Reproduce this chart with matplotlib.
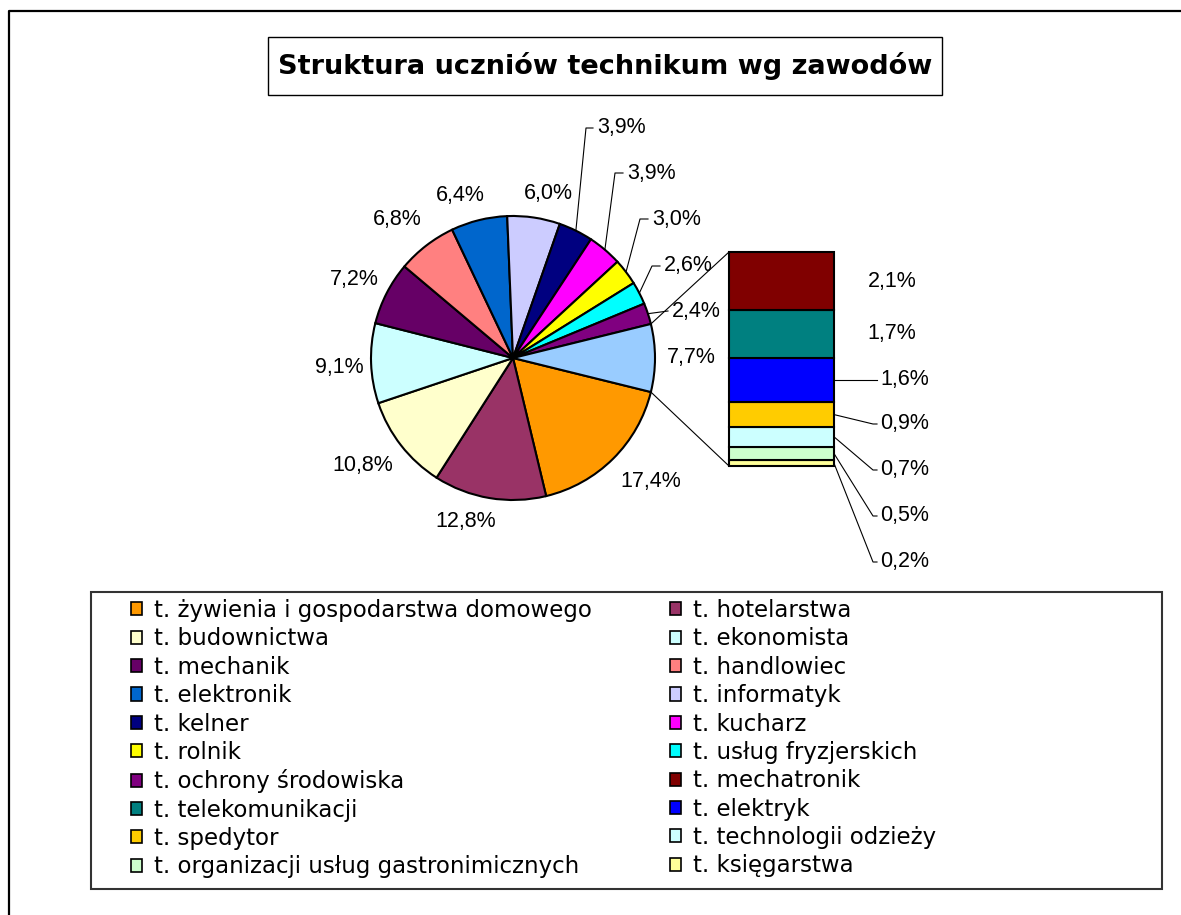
import matplotlib.pyplot as plt
import numpy as np
from matplotlib.patches import Rectangle, Patch, ConnectionPatch
from matplotlib.lines import Line2D
from matplotlib import transforms

# Dane - udzial uczniow technikum wg zawodow (%)
pie_labels = ["t. żywienia i gospodarstwa domowego", "t. hotelarstwa", "t. budownictwa",
              "t. ekonomista", "t. mechanik", "t. handlowiec", "t. elektronik",
              "t. informatyk", "t. kelner", "t. kucharz", "t. rolnik",
              "t. usług fryzjerskich", "t. ochrony środowiska"]
pie_values = [17.4, 12.8, 10.8, 9.1, 7.2, 6.8, 6.4, 6.0, 3.9, 3.9, 3.0, 2.6, 2.4]
pie_colors = ["#FF9900", "#993366", "#FFFFCC", "#CCFFFF", "#660066", "#FF8080", "#0066CC",
              "#CCCCFF", "#000080", "#FF00FF", "#FFFF00", "#00FFFF", "#800080"]

bar_labels = ["t. mechatronik", "t. telekomunikacji", "t. elektryk", "t. spedytor",
              "t. technologii odzieży", "t. organizacji usług gastronimicznych", "t. księgarstwa"]
bar_values = [2.1, 1.7, 1.6, 0.9, 0.7, 0.5, 0.2]
bar_colors = ["#800000", "#008080", "#0000FF", "#FFCC00", "#CCFFFF", "#CCFFCC", "#FFFF99"]
other_color = "#99CCFF"

title = "Struktura uczniów technikum wg zawodów"

W, H = 1181, 915
fig = plt.figure(figsize=(W / 100, H / 100), dpi=100)


def fp(x, y):
    # piksele liczone od gory -> wspolrzedne figury
    return x / W, 1 - y / H


def disp2fig(pt):
    return pt[0] / W, pt[1] / H


def pct(v):
    return f"{v:.1f}%".replace(".", ",")


lab_font = {"family": "Liberation Sans", "size": 15.5}

# ramka calego wykresu (prawa i dolna krawedz poza obrazkiem)
fig.add_artist(Line2D([9 / W, 9 / W, 1.0], [0.0, 1 - 11 / H, 1 - 11 / H],
                      transform=fig.transFigure, color="black", lw=1.6))

# tytul w ramce
fig.add_artist(Rectangle(fp(268, 95), 674 / W, 58 / H, transform=fig.transFigure,
                         fill=False, edgecolor="black", lw=1.0))
fig.text(605 / W, 1 - 66 / H, title, ha="center", va="center", fontweight="bold",
         family="DejaVu Sans", size=19.5)

# kolo
R = 142
ax1 = fig.add_axes([(513 - R) / W, 1 - (358 + R) / H, 2 * R / W, 2 * R / H])
values = pie_values + [sum(bar_values)]
other_deg = 360 * sum(bar_values) / sum(values)
wedges, _ = ax1.pie(values, colors=pie_colors + [other_color], startangle=-other_deg / 2,
                    counterclock=False, radius=1,
                    wedgeprops=dict(edgecolor="black", linewidth=1.5))
for w in wedges:
    w.set_clip_on(False)
ax1.set_xlim(-1, 1)
ax1.set_ylim(-1, 1)
ax1.axis("off")

# slupek "pozostale"
ax2 = fig.add_axes([729 / W, 1 - 466 / H, 105 / W, 214 / H])
bottom = 0
mids = []
for v, c in zip(bar_values[::-1], bar_colors[::-1]):
    ax2.bar(0, v, bottom=bottom, width=1, color=c, edgecolor="black", linewidth=1.5, clip_on=False)
    mids.append(bottom + v / 2)
    bottom += v
mids = mids[::-1]
ax2.set_xlim(-0.5, 0.5)
ax2.set_ylim(0, sum(bar_values))
ax2.axis("off")

# linie laczace kolo ze slupkiem
a = np.radians(other_deg / 2)
for sgn, yb in [(1, sum(bar_values)), (-1, 0)]:
    con = ConnectionPatch(xyA=(np.cos(a), sgn * np.sin(a)), coordsA=ax1.transData,
                          xyB=(-0.5, yb), coordsB=ax2.transData, color="black", lw=0.8)
    fig.add_artist(con)

# etykiety kola - duze wycinki (srodek tekstu w px)
big_pos = {0: (651, 481), 1: (466, 522), 2: (363, 465), 3: (339, 368), 4: (354, 280),
           5: (397, 219), 6: (460, 195), 7: (548, 193), 13: (691, 358)}
for i, (x, y) in big_pos.items():
    fig.text(*fp(x, y), pct(values[i]), ha="center", va="center", **lab_font)

# male wycinki - z liniami odniesienia (lamanie, koniec, tekst)
small_pos = {8: ((586, 128), (593, 128)), 9: ((615, 173), (623, 173)),
             10: ((640, 219), (648, 219)), 11: ((652, 266), (660, 266)),
             12: (None, (668, 311))}
for i, (elbow, end) in small_pos.items():
    th = np.radians((wedges[i].theta1 + wedges[i].theta2) / 2)
    start = disp2fig(ax1.transData.transform((np.cos(th), np.sin(th))))
    pts = [start] + ([fp(*elbow)] if elbow else []) + [fp(*end)]
    xs, ys = zip(*pts)
    fig.add_artist(Line2D(xs, ys, transform=fig.transFigure, color="black", lw=0.8))
    fig.text(*fp(end[0] + 4, end[1]), pct(values[i]), ha="left", va="center", **lab_font)

# etykiety slupka
blend = transforms.blended_transform_factory(fig.transFigure, ax2.transData)
text_y = [None, None, None, 424, 470, 516, 562]
for i, v in enumerate(bar_values):
    if i < 2:
        fig.text(892 / W, mids[i], pct(v), transform=blend, ha="center", va="center", **lab_font)
        continue
    start = disp2fig(ax2.transData.transform((0.5, mids[i])))
    if text_y[i] is None:
        ty = (1 - start[1]) * H
    else:
        ty = text_y[i]
    xs = [start[0], 873 / W, 877 / W]
    ys = [start[1], 1 - ty / H, 1 - ty / H]
    fig.add_artist(Line2D(xs, ys, transform=fig.transFigure, color="black", lw=0.8))
    fig.text(*fp(880, ty), pct(v), ha="left", va="center", **lab_font)

# legenda (wierszami, jak w Excelu)
all_labels = pie_labels + bar_labels
all_colors = pie_colors + bar_colors
handles = [Patch(facecolor=c, edgecolor="black", linewidth=1.2) for c in all_colors]
order = list(range(0, 20, 2)) + list(range(1, 20, 2))
fig.legend([handles[i] for i in order], [all_labels[i] for i in order],
           loc="upper left", bbox_to_anchor=fp(131, 599), ncol=2, frameon=False,
           prop={"family": "DejaVu Sans", "size": 16.5}, handlelength=0.5, handleheight=0.5,
           handletextpad=0.5, labelspacing=0.235, columnspacing=3.4, borderpad=0,
           borderaxespad=0)
fig.add_artist(Rectangle(fp(91, 889), (1162 - 91) / W, (889 - 592) / H,
                         transform=fig.transFigure, fill=False, edgecolor="#333333", lw=1.5))

fig.savefig("out.png", dpi=100)
